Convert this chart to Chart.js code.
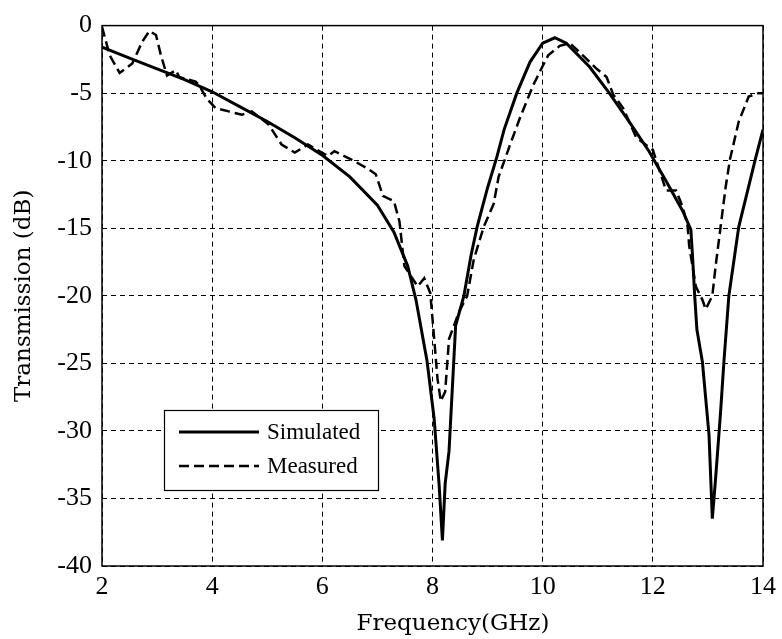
<!DOCTYPE html>
<html>
<head>
<meta charset="utf-8">
<script src="https://cdn.jsdelivr.net/npm/chart.js@4.4.1/dist/chart.umd.min.js"></script>
<style>
  html, body { margin: 0; padding: 0; background: #fff; }
  #wrap { width: 782px; height: 639px; }
</style>
</head>
<body>
<div id="wrap"><canvas id="tx"></canvas></div>
<script>
// frequency (GHz) / transmission (dB)
const simFreq = [2.0, 2.5, 3.0, 3.5, 4.0, 4.5, 5.0, 5.5, 6.0, 6.5, 7.0, 7.3, 7.55, 7.7, 7.9, 8.03, 8.12, 8.18,
  8.23, 8.3, 8.42, 8.57, 8.7, 8.81, 9.0, 9.17, 9.3, 9.53, 9.77, 10.0, 10.22, 10.43, 10.85, 11.21, 11.57, 11.93,
  12.24, 12.54, 12.69, 12.72, 12.76, 12.8, 12.9, 13.02, 13.08, 13.14, 13.23, 13.29, 13.38, 13.56, 13.86, 14.0];
const simDb = [-1.6, -2.4, -3.2, -4.0, -4.9, -6.0, -7.1, -8.3, -9.6, -11.2, -13.3, -15.3, -17.8, -20.3, -24.8, -29.1, -34, -38.1,
  -33.9, -31.5, -22.2, -20.0, -17, -14.9, -12, -9.7, -7.7, -5.0, -2.7, -1.3, -0.9, -1.3, -3.05, -5.0, -7.1, -9.3,
  -11.5, -13.7, -15.1, -17, -20, -22.5, -24.9, -30.3, -36.5, -33.5, -28.6, -24.9, -20.0, -14.9, -9.9, -7.7];

const measFreq = [2.0, 2.14, 2.32, 2.55, 2.73, 2.86, 2.98, 3.07, 3.18, 3.34, 3.4, 3.7, 3.76, 3.9, 4.06, 4.3, 4.54, 4.72,
  5.02, 5.26, 5.5, 5.74, 6.1, 6.22, 6.52, 6.83, 6.97, 7.1, 7.3, 7.4, 7.49, 7.73, 7.85, 7.96, 8.0, 8.09, 8.15, 8.23,
  8.3, 8.48, 8.63, 8.75, 8.93, 9.11, 9.2, 9.41, 9.59, 9.83, 9.95, 10.1, 10.31, 10.49, 10.73, 10.98, 11.16, 11.28,
  11.46, 11.7, 12.0, 12.24, 12.42, 12.54, 12.63, 12.66, 12.78, 12.9, 12.96, 13.08, 13.14, 13.23, 13.32, 13.4,
  13.56, 13.74, 13.92, 14.0];
const measDb = [-0.1, -2.2, -3.5, -2.8, -1.2, -0.4, -0.7, -2.2, -3.7, -3.3, -3.8, -4.15, -4.4, -5.4, -6.1, -6.35, -6.6, -6.35,
  -7.3, -8.8, -9.4, -8.8, -9.65, -9.3, -9.9, -10.6, -11.0, -12.6, -13.0, -14.5, -17.8, -19.3, -18.7, -19.8, -21.7, -26.1, -27.8, -27.1,
  -23.2, -21.2, -20.0, -17.3, -14.9, -13.2, -11.2, -8.8, -6.8, -4.4, -3.4, -2.2, -1.5, -1.3, -2.2, -3.2, -3.8, -5.1,
  -6.1, -8.3, -9.2, -12.2, -12.2, -13.4, -14.8, -16.3, -19.3, -20.3, -21.0, -20.0, -17.8, -14.9, -12.0, -9.9,
  -7.1, -5.25, -5.0, -5.0];

const xTicks = [2, 4, 6, 8, 10, 12, 14];
const yTicks = [0, -5, -10, -15, -20, -25, -30, -35, -40];
const seriesNames = ['Simulated', 'Measured'];
const xTitle = 'Frequency(GHz)';

function pts(xs, ys) {
  return xs.map((x, i) => ({ x: x, y: ys[i] }));
}

const titleFamily = '"DejaVu Serif", serif';

// box around the axes, x title and legend in the lower left
const framePlugin = {
  id: 'frame',
  afterDatasetsDraw(chart) {
    const { ctx, chartArea: a } = chart;
    ctx.save();
    ctx.strokeStyle = '#000';
    ctx.lineWidth = 1.5;
    ctx.setLineDash([]);
    ctx.strokeRect(a.left, a.top, a.right - a.left, a.bottom - a.top);

    // x axis title (sits a bit right of centre in the original)
    ctx.fillStyle = '#000';
    ctx.font = '23px ' + titleFamily;
    ctx.textAlign = 'center';
    ctx.textBaseline = 'middle';
    ctx.fillText(xTitle, 453, 624);

    // legend box
    const bx = 164, by = 410, bw = 214, bh = 80;
    ctx.fillStyle = '#fff';
    ctx.fillRect(bx, by, bw, bh);
    ctx.lineWidth = 1.2;
    ctx.strokeRect(bx + 0.5, by + 0.5, bw, bh);

    const rows = [432, 466];
    chart.data.datasets.forEach((ds, i) => {
      ctx.beginPath();
      ctx.lineWidth = ds.borderWidth;
      ctx.setLineDash(ds.borderDash || []);
      ctx.moveTo(179, rows[i]);
      ctx.lineTo(259, rows[i]);
      ctx.stroke();
      ctx.setLineDash([]);
      ctx.fillStyle = '#000';
      ctx.font = '23px "Liberation Serif", serif';
      ctx.textBaseline = 'middle';
      ctx.textAlign = 'left';
      ctx.fillText(ds.label, 267, rows[i] + 1);
    });
    ctx.restore();
  }
};

const tickFont = { family: '"Liberation Serif", serif', size: 26 };

new Chart(document.getElementById('tx'), {
  type: 'line',
  data: {
    datasets: [{
      label: seriesNames[0],
      data: pts(simFreq, simDb),
      borderColor: '#000',
      borderWidth: 3,
      pointRadius: 0,
      tension: 0
    }, {
      label: seriesNames[1],
      data: pts(measFreq, measDb),
      borderColor: '#000',
      borderWidth: 2.5,
      borderDash: [10, 5],
      pointRadius: 0,
      tension: 0
    }]
  },
  options: {
    responsive: true,
    maintainAspectRatio: false,
    animation: false,
    layout: { padding: { top: 20, right: 14, left: 0, bottom: 0 } },
    plugins: {
      legend: { display: false },
      tooltip: { enabled: false }
    },
    scales: {
      x: {
        type: 'linear',
        min: 2, max: 14,
        afterFit: s => { s.height = 73; },
        afterBuildTicks: s => { s.ticks = xTicks.map(v => ({ value: v })); },
        ticks: { color: '#000', font: tickFont, padding: 6, maxRotation: 0, callback: v => String(v) },
        grid: { color: '#000', lineWidth: 1, drawTicks: false, borderDash: [5, 4] },
        border: { display: false, dash: [5, 4] }
      },
      y: {
        min: -40, max: 0,
        afterFit: s => { s.width = 102; },
        afterBuildTicks: s => { s.ticks = yTicks.map(v => ({ value: v })); },
        ticks: { color: '#000', font: tickFont, padding: 10, callback: v => String(v) },
        grid: { color: '#000', lineWidth: 1, drawTicks: false, borderDash: [5, 4] },
        border: { display: false, dash: [5, 4] },
        title: { display: true, text: 'Transmission (dB)', color: '#000', font: { family: titleFamily, size: 23 }, padding: { top: 10, bottom: 0 } }
      }
    }
  },
  plugins: [framePlugin]
});
</script>
</body>
</html>
